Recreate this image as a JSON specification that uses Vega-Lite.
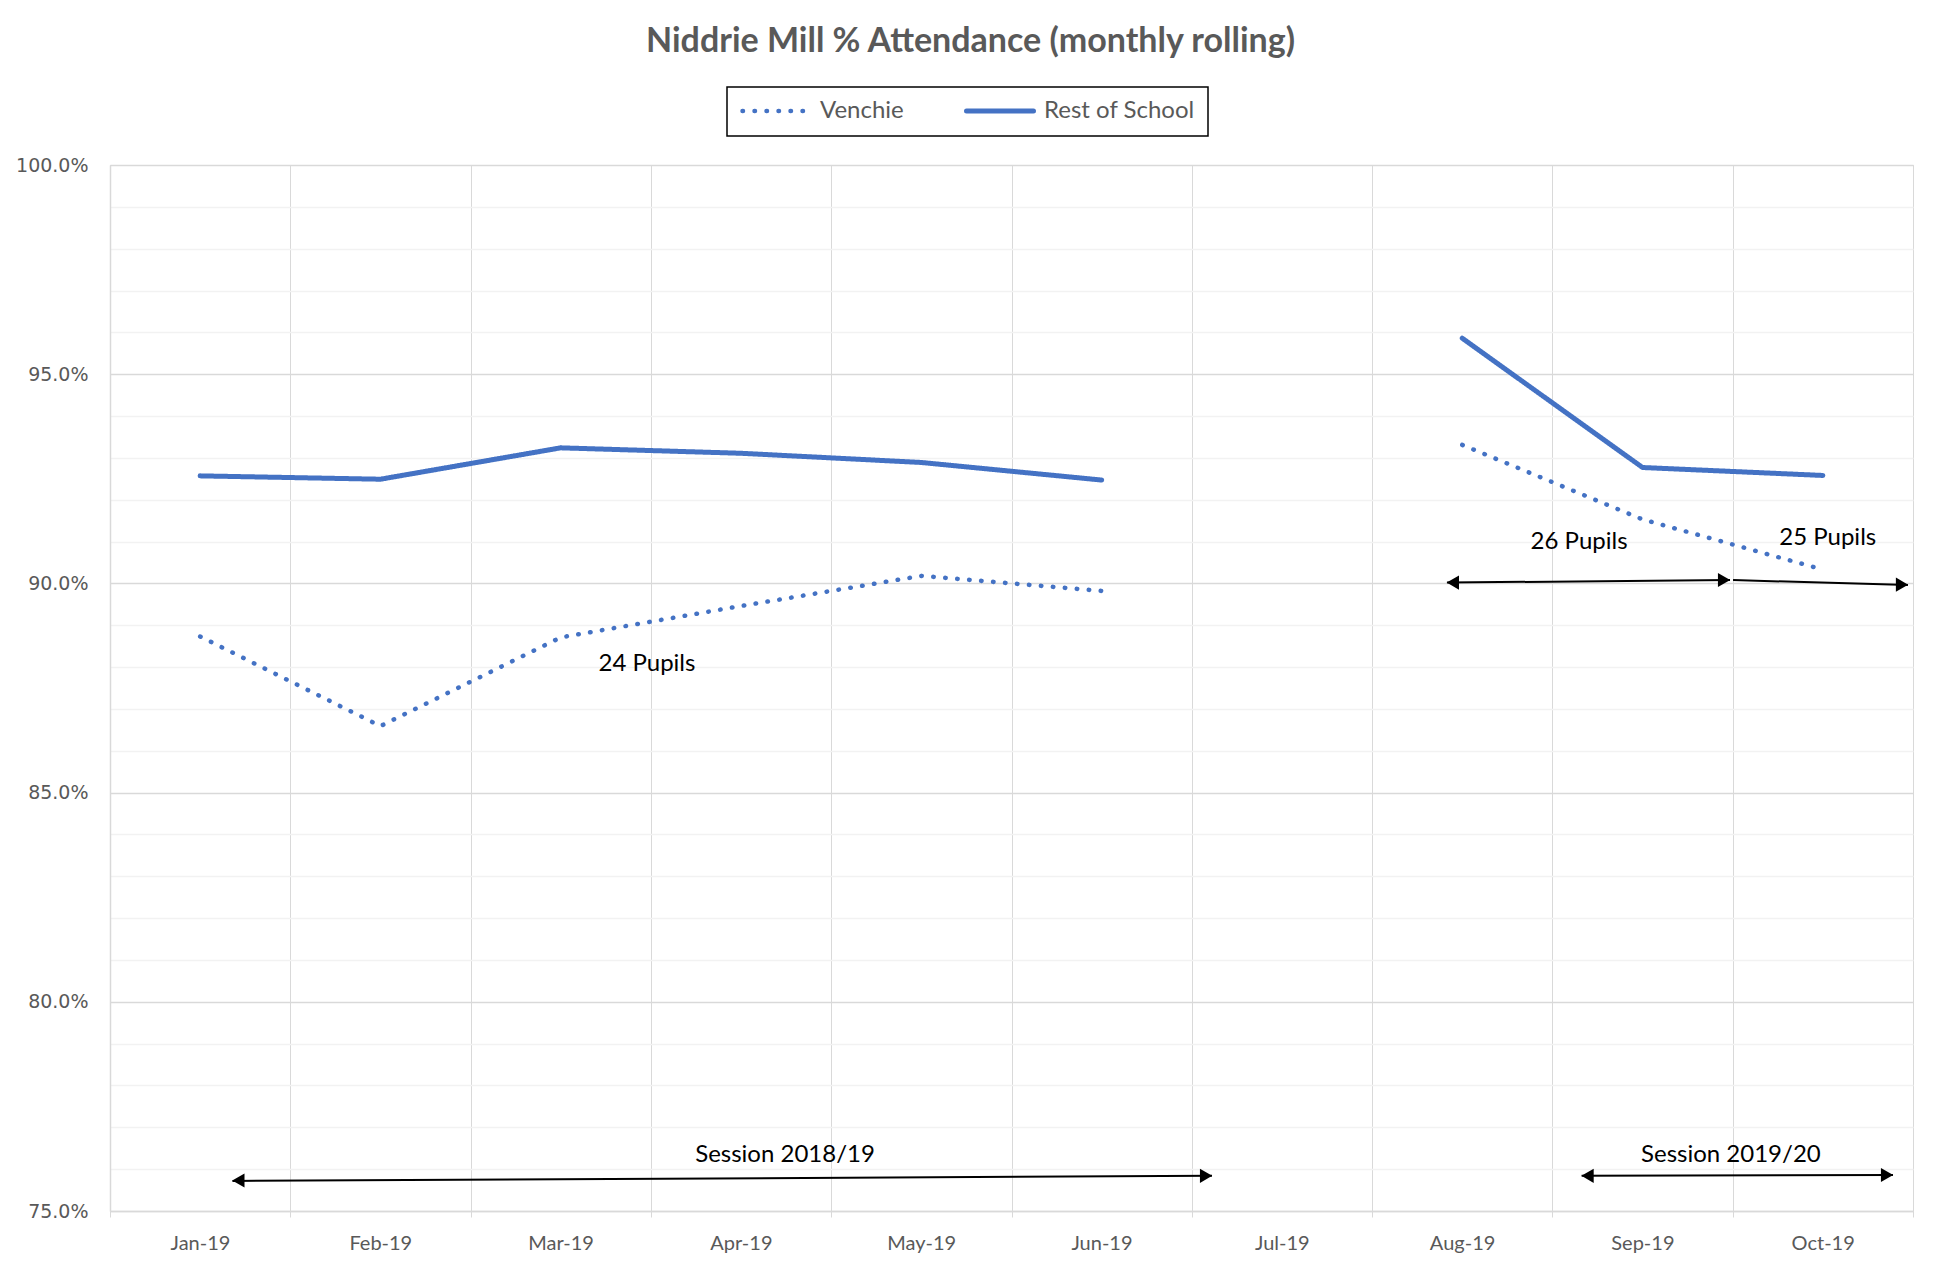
{
  "$schema": "https://vega.github.io/schema/vega-lite/v6.json",
  "width": 1803,
  "height": 1046,
  "autosize": {"type": "none"},
  "padding": {"left": 110, "top": 165, "right": 26, "bottom": 56},
  "background": "white",
  "title": {
    "text": "Niddrie Mill % Attendance (monthly rolling)",
    "font": "Lato",
    "fontSize": 34,
    "fontWeight": "bold",
    "color": "#595959",
    "anchor": "middle",
    "frame": "group",
    "baseline": "alphabetic",
    "offset": 0,
    "dx": -41
  },
  "config": {
    "view": {"stroke": "#d9d9d9", "strokeWidth": 1},
    "axis": {"titleFont": "Lato"}
  },
  "datasets": {
    "lines": [
      {"month": "Jan-19", "m": 1, "series": "Venchie", "session": "2018/19", "value": 0.8873},
      {"month": "Feb-19", "m": 2, "series": "Venchie", "session": "2018/19", "value": 0.8659},
      {"month": "Mar-19", "m": 3, "series": "Venchie", "session": "2018/19", "value": 0.8871},
      {"month": "Apr-19", "m": 4, "series": "Venchie", "session": "2018/19", "value": 0.8946},
      {"month": "May-19", "m": 5, "series": "Venchie", "session": "2018/19", "value": 0.9018},
      {"month": "Jun-19", "m": 6, "series": "Venchie", "session": "2018/19", "value": 0.8982},
      {"month": "Aug-19", "m": 8, "series": "Venchie", "session": "2019/20", "value": 0.9331},
      {"month": "Sep-19", "m": 9, "series": "Venchie", "session": "2019/20", "value": 0.9153},
      {"month": "Oct-19", "m": 10, "series": "Venchie", "session": "2019/20", "value": 0.9033},
      {"month": "Jan-19", "m": 1, "series": "Rest of School", "session": "2018/19", "value": 0.9257},
      {"month": "Feb-19", "m": 2, "series": "Rest of School", "session": "2018/19", "value": 0.9249},
      {"month": "Mar-19", "m": 3, "series": "Rest of School", "session": "2018/19", "value": 0.9324},
      {"month": "Apr-19", "m": 4, "series": "Rest of School", "session": "2018/19", "value": 0.9311},
      {"month": "May-19", "m": 5, "series": "Rest of School", "session": "2018/19", "value": 0.9289},
      {"month": "Jun-19", "m": 6, "series": "Rest of School", "session": "2018/19", "value": 0.9247},
      {"month": "Aug-19", "m": 8, "series": "Rest of School", "session": "2019/20", "value": 0.9586},
      {"month": "Sep-19", "m": 9, "series": "Rest of School", "session": "2019/20", "value": 0.9277},
      {"month": "Oct-19", "m": 10, "series": "Rest of School", "session": "2019/20", "value": 0.9258}
    ],
    "arrows": [
      {"label": "Session 2018/19", "m": 1.179, "m2": 6.612, "v": 0.7572, "v2": 0.7584},
      {"label": "Session 2019/20", "m": 8.662, "m2": 10.389, "v": 0.7584, "v2": 0.7586},
      {"label": "26 Pupils", "m": 7.915, "m2": 9.485, "v": 0.9002, "v2": 0.9008},
      {"label": "25 Pupils", "m": 9.502, "m2": 10.472, "v": 0.9008, "v2": 0.8996}
    ],
    "heads": [
      {"label": "Session 2018/19", "dir": "left", "m": 1.212, "v": 0.7573},
      {"label": "Session 2018/19", "dir": "right", "m": 6.579, "v": 0.7584},
      {"label": "Session 2019/20", "dir": "left", "m": 8.695, "v": 0.7584},
      {"label": "Session 2019/20", "dir": "right", "m": 10.356, "v": 0.7586},
      {"label": "26 Pupils", "dir": "left", "m": 7.948, "v": 0.9002},
      {"label": "26 Pupils", "dir": "right", "m": 9.452, "v": 0.9008},
      {"label": "25 Pupils", "dir": "right", "m": 10.439, "v": 0.8997}
    ],
    "notes": [
      {"text": "24 Pupils", "m": 3.478, "v": 0.8807},
      {"text": "26 Pupils", "m": 8.648, "v": 0.9100},
      {"text": "25 Pupils", "m": 10.027, "v": 0.9109},
      {"text": "Session 2018/19", "m": 4.244, "v": 0.7634},
      {"text": "Session 2019/20", "m": 9.49, "v": 0.7634}
    ]
  },
  "layer": [
    {
      "data": {"name": "lines"},
      "mark": {"type": "line", "color": "#4472C4", "strokeCap": "round", "strokeJoin": "round"},
      "encoding": {
        "x": {
          "field": "m", "type": "quantitative",
          "scale": {"domain": [0.5, 10.5], "nice": false, "zero": false},
          "axis": {
            "title": null,
            "values": [0.5, 1.5, 2.5, 3.5, 4.5, 5.5, 6.5, 7.5, 8.5, 9.5, 10.5],
            "labelExpr": "datum.value < 10 ? ['Jan-19','Feb-19','Mar-19','Apr-19','May-19','Jun-19','Jul-19','Aug-19','Sep-19','Oct-19'][floor(datum.value)] : ''",
            "labelOffset": 90,
            "labelFont": "Lato",
            "labelFontSize": 20,
            "labelColor": "#595959",
            "labelPadding": 16,
            "labelFlush": false,
            "labelOverlap": false,
            "grid": true,
            "gridColor": "#d9d9d9",
            "gridWidth": 1,
            "tickSize": 6,
            "tickColor": "#d9d9d9",
            "domainColor": "#d9d9d9",
            "domainWidth": 1.5
          }
        },
        "y": {
          "field": "value", "type": "quantitative",
          "scale": {"domain": [0.75, 1.0], "nice": false, "zero": false},
          "axis": {
            "title": null,
            "values": [0.75, 0.76, 0.77, 0.78, 0.79, 0.8, 0.81, 0.82, 0.83, 0.84, 0.85, 0.86, 0.87, 0.88, 0.89, 0.9, 0.91, 0.92, 0.93, 0.94, 0.95, 0.96, 0.97, 0.98, 0.99, 1.0],
            "labelExpr": "round(datum.value * 100) % 5 === 0 ? format(datum.value, '.1%') : ''",
            "labelFont": "DejaVu Sans",
            "labelFontSize": 19,
            "labelColor": "#595959",
            "labelPadding": 22,
            "labelOverlap": false,
            "labelFlush": false,
            "ticks": false,
            "grid": true,
            "gridColor": {"condition": {"test": "round(datum.value * 100) % 5 === 0", "value": "#d9d9d9"}, "value": "#f2f2f2"},
            "gridWidth": 1.5,
            "domainColor": "#d9d9d9",
            "domainWidth": 1.5
          }
        },
        "strokeDash": {
          "field": "series", "type": "nominal",
          "scale": {"domain": ["Venchie", "Rest of School"], "range": [[0.5, 11.5], [1, 0]]},
          "legend": {
            "title": null,
            "orient": "none",
            "legendX": 617,
            "legendY": -78,
            "direction": "horizontal",
            "strokeColor": "#000000",
            "fillColor": "white",
            "padding": 13,
            "clipHeight": 22,
            "symbolType": "stroke",
            "symbolSize": 4489,
            "symbolStrokeWidth": 4.5,
            "symbolStrokeColor": "#4472C4",
            "labelFont": "Lato",
            "labelFontSize": 24,
            "labelColor": "#595959",
            "labelOffset": 8,
            "columnPadding": 60,
            "encode": {
              "symbols": {"update": {"strokeCap": {"value": "round"}}},
              "legend": {"update": {"strokeWidth": {"value": 1.5}}}
            }
          }
        },
        "strokeWidth": {
          "field": "series", "type": "nominal",
          "scale": {"domain": ["Venchie", "Rest of School"], "range": [4.5, 5]},
          "legend": null
        },
        "detail": {"field": "session", "type": "nominal"}
      }
    },
    {
      "data": {"name": "arrows"},
      "mark": {"type": "rule", "color": "#000000", "strokeWidth": 2},
      "encoding": {
        "x": {"field": "m", "type": "quantitative", "axis": {"title": null}},
        "x2": {"field": "m2"},
        "y": {"field": "v", "type": "quantitative", "axis": {"title": null}},
        "y2": {"field": "v2"}
      }
    },
    {
      "data": {"name": "heads"},
      "mark": {"type": "point", "filled": true, "color": "#000000", "opacity": 1, "size": 200},
      "encoding": {
        "x": {"field": "m", "type": "quantitative", "axis": {"title": null}},
        "y": {"field": "v", "type": "quantitative", "axis": {"title": null}},
        "shape": {
          "field": "dir", "type": "nominal",
          "scale": {"domain": ["left", "right"], "range": ["triangle-left", "triangle-right"]},
          "legend": null
        }
      }
    },
    {
      "data": {"name": "notes"},
      "mark": {"type": "text", "font": "Lato", "fontSize": 24, "color": "#000000", "align": "center", "baseline": "middle"},
      "encoding": {
        "x": {"field": "m", "type": "quantitative", "axis": {"title": null}},
        "y": {"field": "v", "type": "quantitative", "axis": {"title": null}},
        "text": {"field": "text"}
      }
    }
  ]
}
